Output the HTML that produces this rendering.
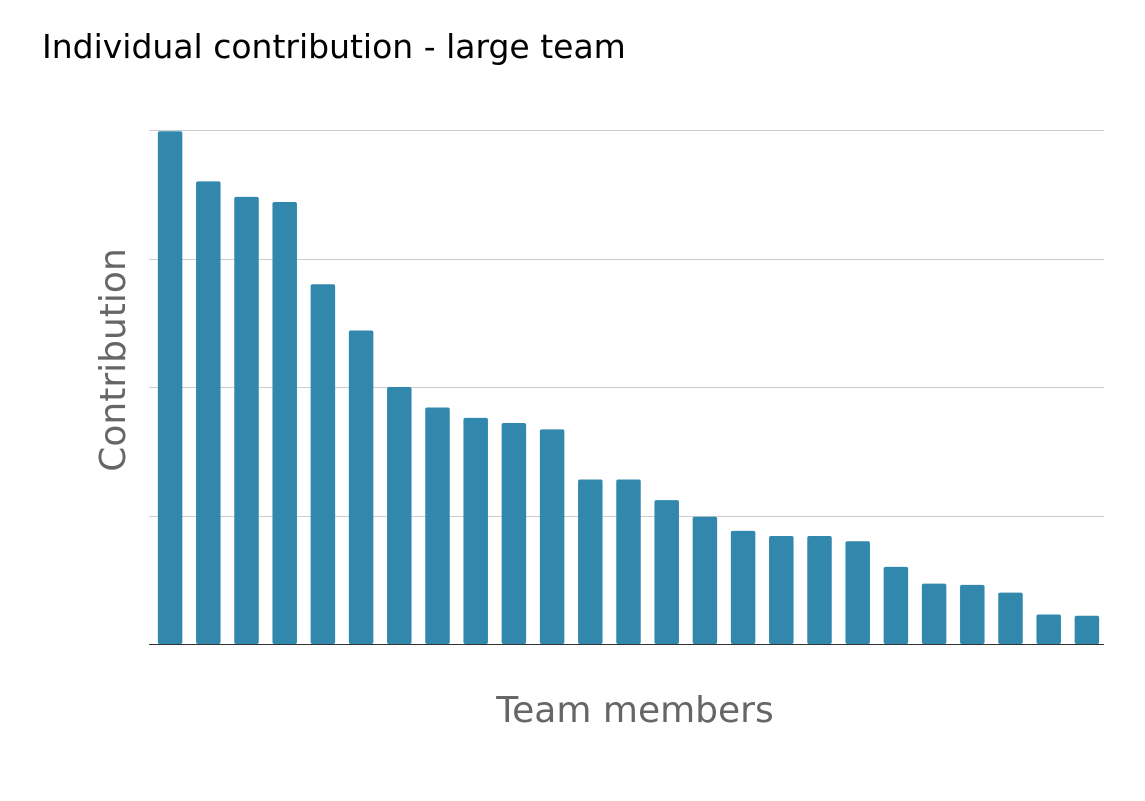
<!DOCTYPE html>
<html><head><meta charset="utf-8"><style>
html,body{margin:0;padding:0;background:#fff;}
svg{display:block;}
</style></head><body>
<svg width="1145" height="801">
<text x="42" y="58" font-family="'DejaVu Sans','Liberation Sans',sans-serif" font-size="33" fill="#000">Individual contribution - large team</text>
<g id="grid"></g>
<g id="bars"></g>
<line x1="149" x2="1104" y1="644.5" y2="644.5" stroke="#333" stroke-width="1"/>
<text transform="translate(125,360) rotate(-90)" text-anchor="middle" font-family="'DejaVu Sans','Liberation Sans',sans-serif" font-size="36" fill="#666">Contribution</text>
<text x="635" y="722" text-anchor="middle" font-family="'DejaVu Sans','Liberation Sans',sans-serif" font-size="36" fill="#666">Team members</text>
</svg>
<script>
const categories = ["m1","m2","m3","m4","m5","m6","m7","m8","m9","m10","m11","m12","m13","m14","m15","m16","m17","m18","m19","m20","m21","m22","m23","m24","m25"];
const values = [3.99,3.60,3.48,3.44,2.80,2.44,2.00,1.84,1.76,1.72,1.67,1.28,1.28,1.12,0.99,0.88,0.84,0.84,0.80,0.60,0.47,0.46,0.40,0.23,0.22];
const gridTicks = [1,2,3,4];
const NS="http://www.w3.org/2000/svg";
const x0=149,x1=1104,y0=644,yMax=4,yTop=130;
function yScale(v){return y0-(v/yMax)*(y0-yTop);}
const step=(x1-x0)/categories.length;
function xScale(i){return x0+step*i+(step-24.5)/2+2;}
const g=document.getElementById('grid');
gridTicks.forEach(t=>{
  const l=document.createElementNS(NS,'line');
  
  
  l.setAttribute('x1',x0);l.setAttribute('x2',x1);
  const y=Math.round(yScale(t))+0.5;
  l.setAttribute('y1',y);l.setAttribute('y2',y);
  l.setAttribute('stroke','#ccc');l.setAttribute('stroke-width','1');
  g.appendChild(l);
});
const b=document.getElementById('bars');
values.forEach((v,i)=>{
  const r=document.createElementNS(NS,'rect');
  
  
  const y=yScale(v);
  r.setAttribute('x',xScale(i));r.setAttribute('y',y);
  r.setAttribute('width',24.5);r.setAttribute('height',y0-y);
  r.setAttribute('rx',2);
  r.setAttribute('fill','#3288ac');
  b.appendChild(r);
});
</script>
</body></html>
